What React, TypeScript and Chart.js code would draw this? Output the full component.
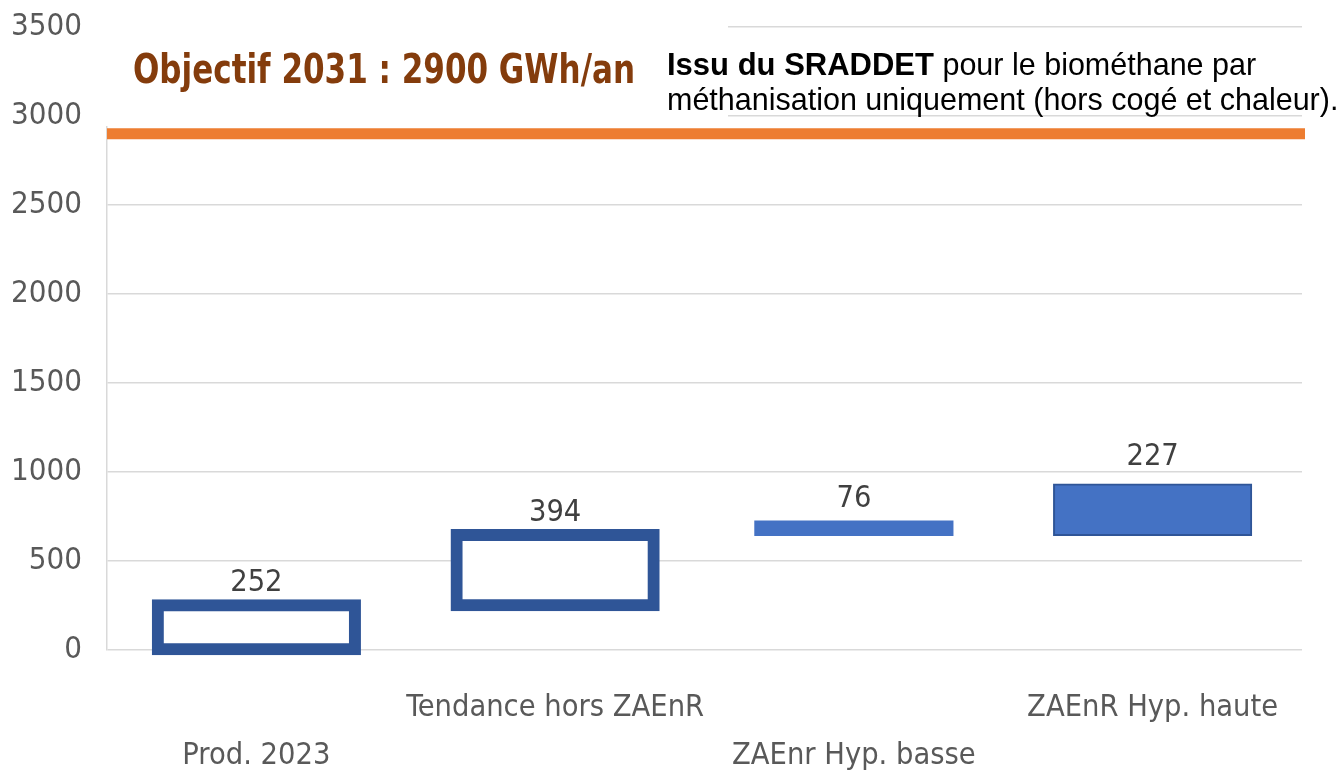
import React, { useEffect, useRef } from "react";
import { Chart, registerables } from "chart.js";

Chart.register(...registerables);

// ---- Data ----
const CATEGORIES: string[][] = [
  ["", "Prod. 2023"],
  ["Tendance hors ZAEnR", ""],
  ["", "ZAEnr Hyp. basse"],
  ["ZAEnR Hyp. haute", ""],
];
const BAR_START = [0, 252, 646, 646];
const BAR_END = [252, 646, 722, 930];
const BAR_LABELS = [252, 394, 76, 227];
const OBJECTIVE = 2900;
const Y_MIN = 0;
const Y_MAX = 3500;
const Y_STEP = 500;
const TITLE = "Objectif 2031 : 2900 GWh/an";
const NOTE_BOLD = "Issu du SRADDET";
const NOTE_LINE1 = " pour le biométhane par";
const NOTE_LINE2 = "méthanisation uniquement (hors cogé et chaleur).";

const NARROW = "'DejaVu Sans Condensed', 'Liberation Sans', sans-serif";
const ARIAL = "'Liberation Sans', Arial, sans-serif";

const overlayPlugin = {
  id: "overlay",
  beforeDatasetsDraw(chart: any) {
    const { ctx, chartArea } = chart;
    ctx.save();
    ctx.fillStyle = "#ffffff";
    ctx.fillRect(chartArea.left - 3, 0, 728 - (chartArea.left - 3), 126);
    ctx.restore();
  },
  afterDatasetsDraw(chart: any) {
    const { ctx, chartArea, scales } = chart;
    const y = scales.y;
    ctx.save();
    // objective line
    const oy = y.getPixelForValue(OBJECTIVE);
    ctx.strokeStyle = "#ED7D31";
    ctx.lineWidth = 11;
    ctx.beginPath();
    ctx.moveTo(chartArea.left, oy);
    ctx.lineTo(chartArea.right + 3, oy);
    ctx.stroke();
    // data labels
    const meta = chart.getDatasetMeta(0);
    ctx.fillStyle = "#404040";
    ctx.font = `30.5px ${NARROW}`;
    ctx.textAlign = "center";
    ctx.textBaseline = "middle";
    meta.data.forEach((bar: any, i: number) => {
      const top = y.getPixelForValue(BAR_END[i]);
      const off = i === 3 ? 27 : 22;
      ctx.fillText(String(BAR_LABELS[i]), bar.x, top - off);
    });
    ctx.restore();
  },
  afterDraw(chart: any) {
    const { ctx } = chart;
    ctx.save();
    ctx.textBaseline = "alphabetic";
    ctx.textAlign = "left";
    ctx.fillStyle = "#843C0C";
    ctx.font = `bold 40px ${NARROW}`;
    ctx.fillText(TITLE, 133, 83, 502);
    ctx.fillStyle = "#000000";
    ctx.font = `bold 31px ${ARIAL}`;
    ctx.fillText(NOTE_BOLD, 667, 75);
    const w = ctx.measureText(NOTE_BOLD).width;
    ctx.font = `30.5px ${ARIAL}`;
    ctx.fillText(NOTE_LINE1, 667 + w, 75);
    ctx.fillText(NOTE_LINE2, 667, 110);
    ctx.restore();
  },
};

export default function App() {
  const ref = useRef<HTMLCanvasElement | null>(null);
  useEffect(() => {
    if (!ref.current) return;
    const data = BAR_START.map((s, i) => [s, BAR_END[i]]);
    const chart = new Chart(ref.current, {
      type: "bar",
      data: {
        labels: CATEGORIES,
        datasets: [
          {
            data: data as any,
            backgroundColor: ["#ffffff", "#ffffff", "#4472C4", "#4472C4"],
            borderColor: ["#2F5597", "#2F5597", "#4472C4", "#2F5597"],
            borderWidth: [12, 12, 0, 2] as any,
            inflateAmount: [6, 6, 1, 1] as any,
            borderSkipped: false,
            barPercentage: 0.66,
            categoryPercentage: 1,
            clip: 10 as any,
          },
        ],
      },
      options: {
        animation: false,
        responsive: true,
        maintainAspectRatio: false,
        layout: { padding: { top: 27, right: 38, bottom: 0, left: 0 } },
        plugins: {
          legend: { display: false },
          tooltip: { enabled: false },
        },
        scales: {
          x: {
            grid: { display: false, drawTicks: false },
            border: { display: false },
            ticks: {
              color: "#595959",
              font: { family: NARROW, size: 30.5, lineHeight: 1.57 },
              padding: 34,
              maxRotation: 0,
              autoSkip: false,
            },
            afterFit: (s: any) => {
              s.height = 121;
              s.paddingLeft = 0;
              s.paddingRight = 0;
            },
          },
          y: {
            min: Y_MIN,
            max: Y_MAX,
            grid: { color: "#D9D9D9", lineWidth: 1.5, drawTicks: false },
            border: { display: true, color: "#D9D9D9", width: 1.5 },
            ticks: {
              stepSize: Y_STEP,
              color: "#595959",
              font: { family: NARROW, size: 31 },
              padding: 25,
              callback: (v: any) => String(v),
            },
            afterFit: (s: any) => {
              s.width = 107;
              s.paddingTop = 0;
              s.paddingBottom = 0;
            },
          },
        },
      },
      plugins: [overlayPlugin],
    });
    return () => chart.destroy();
  }, []);
  return (
    <div style={{ position: "absolute", left: 0, top: 0, width: 1340, height: 771, background: "#fff" }}>
      <canvas ref={ref} />
    </div>
  );
}
